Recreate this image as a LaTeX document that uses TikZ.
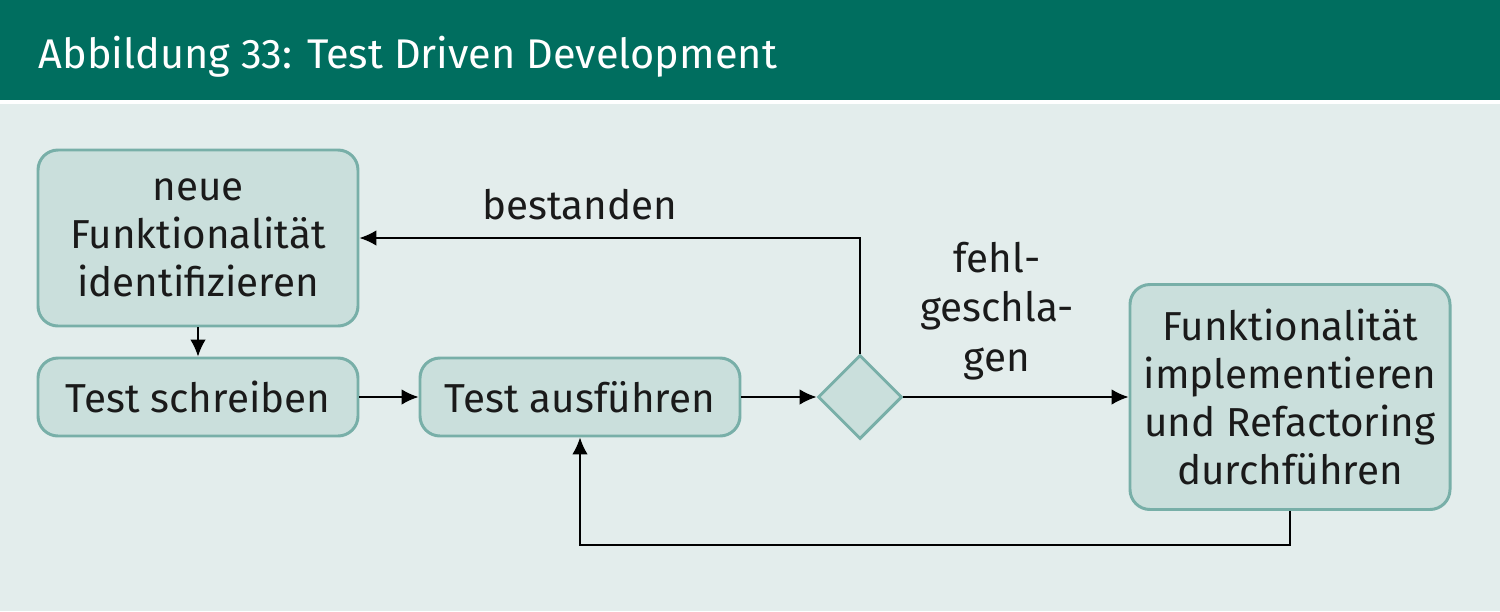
\documentclass[tikz,border=0pt]{standalone}
\usepackage{fontspec}
\setmainfont{Fira Sans}
\usetikzlibrary{arrows.meta,shapes.geometric}
\definecolor{headgreen}{HTML}{006E5F}
\definecolor{paneback}{HTML}{E3EDEC}
\definecolor{boxfill}{HTML}{CADFDC}
\definecolor{boxline}{HTML}{78AFA8}
\definecolor{inkgray}{HTML}{1A1A1A}
\begin{document}
\begin{tikzpicture}[
    stepbox/.style={rectangle, rounded corners=0.2cm, draw=boxline, fill=boxfill, line width=0.85pt,
      text=inkgray, align=center, font=\fontsize{11.5}{13.7}\selectfont, inner sep=0pt},
    choice/.style={diamond, draw=boxline, fill=boxfill, line width=0.85pt, inner sep=0pt,
      minimum width=0.84cm, minimum height=0.84cm},
    flow/.style={-{Latex[length=4.8pt,width=4.4pt]}, line width=0.45pt, black},
    lbl/.style={text=inkgray, align=center, font=\fontsize{11.5}{14}\selectfont}]
      \useasboundingbox (0,0) rectangle (15,6.11);
      % Background
      \fill[white] (0,0) rectangle (15,6.11);
      \fill[paneback] (0,0) rectangle (15,5.07);
      \fill[headgreen] (0,5.11) rectangle (15,6.11);
      \node (title) at (0.38,5.43) [anchor=base west, text=white, inner sep=0pt,
        font=\fontsize{11.8}{14}\selectfont] {Abbildung 33: Test Driven Development};

      % Nodes
      \node (ident) at (1.98,3.73) [stepbox, minimum width=3.2cm, minimum height=1.76cm] {neue\\Funktionalität\\identifizieren};
      \node (write) at (1.98,2.14) [stepbox, minimum width=3.2cm, minimum height=0.78cm] {Test schreiben};
      \node (run) at (5.80,2.14) [stepbox, minimum width=3.2cm, minimum height=0.78cm] {Test ausführen};
      \node (check) at (8.60,2.14) [choice] {};
      \node (impl) at (12.90,2.14) [stepbox, minimum width=3.2cm, minimum height=2.25cm] {Funktionalität\\implementieren\\und Refactoring\\durchführen};

      \node (passed) at (5.80,4.06) [lbl] {bestanden};
      \node (failed) at (9.97,3.00) [lbl] {fehl-\\geschla-\\gen};
      \coordinate (loop) at (12.90,0.66);

      % Edges
      \draw[flow] (ident.south) -- (write.north);
      \draw[flow] (write.east) -- (run.west);
      \draw[flow] (run.east) -- (check.west);
      \draw[flow] (check.east) -- (impl.west);
      \draw[flow] (check.north) |- (ident.east);
      \draw[flow] (impl.south) -- (loop) -| (run.south);
  \end{tikzpicture}
\end{document}
